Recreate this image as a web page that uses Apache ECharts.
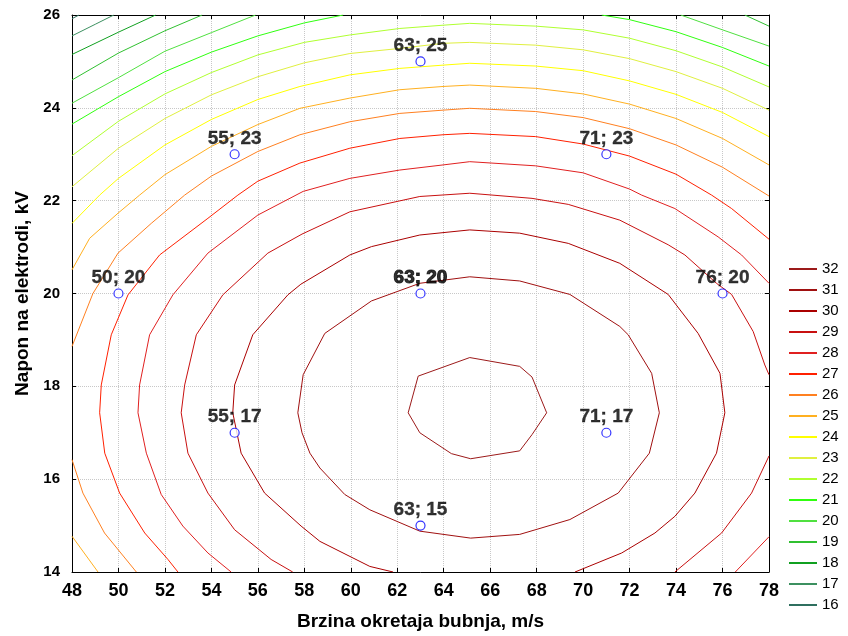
<!DOCTYPE html>
<html>
<head>
<meta charset="utf-8">
<script src="https://cdn.jsdelivr.net/npm/echarts@6/dist/echarts.min.js"></script>
<style>
html,body{margin:0;padding:0;background:#fff;}
#chart{width:848px;height:636px;}
</style>
</head>
<body>
<div id="chart"></div>
<script>
// ---- data ----
const levels = [32,31,30,29,28,27,26,25,24,23,22,21,20,19,18,17,16];
const levelColors = ['#9c1a1a','#a01010','#aa0000','#c81010','#e02020','#ff2000','#ff8020','#ffb020','#ffff00','#e0f040','#b0ff30','#30ff10','#50e040','#30c030','#10a020','#3c9060','#2f6f5f'];

// contour polylines, each level = list of pieces, each piece = list of [x, y]
const contour32 = [[[62.47,17.43],[62.9,18.22],[65.12,18.62],[67.27,18.43],[67.8,18.2],[68.43,17.43],[67.8,16.96],[67.27,16.61],[65.16,16.44],[64.33,16.55],[62.97,17.0],[62.47,17.43]]];
const contour31 = [[[57.72,17.43],[57.95,18.25],[58.88,19.14],[60.89,19.84],[62.97,20.22],[65.12,20.36],[67.27,20.27],[69.43,19.98],[71.58,19.29],[71.94,19.11],[72.95,18.28],[73.28,17.43],[72.85,16.56],[71.51,15.7],[69.43,15.13],[67.27,14.81],[65.16,14.73],[62.97,14.88],[60.82,15.34],[59.74,15.67],[58.67,16.24],[58.24,16.56],[57.9,17.0],[57.72,17.43]]];
const contour30 = [[[61.82,14.0],[60.82,14.12],[58.67,14.66],[57.86,14.99],[56.29,15.7],[55.28,16.56],[54.92,17.43],[55.0,18.03],[55.78,19.11],[57.29,19.97],[57.85,20.2],[59.96,20.83],[60.89,21.01],[62.97,21.26],[65.12,21.37],[67.27,21.3],[69.36,21.08],[71.58,20.65],[73.66,19.98],[74.95,19.14],[75.89,18.28],[76.1,17.43],[75.74,16.56],[74.81,15.7],[73.95,15.2],[73.09,14.84],[71.66,14.41],[69.65,14.0]]];
const contour29 = [
  [[57.5,14.0],[56.57,14.27],[55.0,14.91],[53.85,15.7],[52.99,16.56],[52.7,17.43],[52.85,18.03],[53.35,19.11],[54.49,19.97],[56.43,20.87],[57.9,21.28],[59.96,21.76],[62.97,22.09],[65.12,22.16],[67.8,22.05],[69.36,21.92],[71.58,21.58],[73.66,21.05],[74.38,20.83],[75.74,20.22],[76.39,19.98],[77.32,19.18],[77.82,18.46],[78.0,18.25]],
  [[78.0,16.5],[77.25,15.7],[75.96,14.84],[73.95,14.0]]
];
const contour28 = [
  [[54.85,14.0],[53.85,14.41],[52.77,14.99],[51.84,15.67],[51.2,16.56],[50.84,17.43],[50.91,18.03],[51.34,19.11],[52.34,19.97],[53.85,20.87],[56.0,21.69],[57.95,22.2],[59.96,22.48],[62.11,22.66],[63.97,22.77],[65.12,22.84],[67.96,22.75],[70.0,22.6],[72.0,22.25],[72.52,22.12],[73.95,21.83],[75.81,21.22],[76.82,20.83],[78.0,20.22]],
  [[78.0,14.76],[76.55,14.0]]
];
const contour27 = [[[52.56,14.0],[52.13,14.27],[51.13,14.84],[50.05,15.7],[49.41,16.56],[49.19,17.43],[49.26,18.03],[49.69,19.11],[50.41,19.97],[51.77,20.83],[53.85,21.62],[55.14,22.12],[56.0,22.42],[57.81,22.81],[59.96,23.13],[62.11,23.34],[63.97,23.42],[65.12,23.45],[67.96,23.38],[70.0,23.22],[72.0,22.96],[74.0,22.57],[75.53,22.12],[76.39,21.83],[78.0,21.17]]];
const contour26 = [
  [[48.0,18.86],[48.9,20.0],[49.98,20.87],[51.41,21.51],[52.85,22.12],[54.0,22.53],[56.0,23.06],[57.81,23.42],[59.96,23.7],[62.11,23.88],[63.97,23.95],[65.12,23.99],[67.96,23.92],[70.0,23.79],[72.0,23.55],[74.0,23.2],[76.0,22.72],[78.0,22.1]],
  [[48.0,16.42],[48.47,15.7],[49.4,14.84],[50.77,14.0]]
];
const contour25 = [
  [[48.0,20.51],[48.76,21.19],[49.98,21.73],[50.91,22.12],[52.0,22.56],[54.0,23.17],[56.0,23.64],[57.81,23.99],[59.96,24.21],[62.11,24.39],[63.97,24.46],[65.12,24.49],[67.96,24.42],[70.0,24.3],[72.0,24.08],[74.0,23.77],[76.0,23.34],[78.0,22.77]],
  [[48.0,14.77],[49.12,14.0]]
];
const contour24 = [[[48.0,21.51],[49.19,22.12],[50.0,22.48],[52.0,23.2],[54.0,23.75],[56.0,24.18],[57.81,24.46],[59.96,24.71],[62.11,24.85],[63.97,24.92],[65.12,24.96],[67.96,24.9],[70.0,24.8],[72.0,24.58],[74.0,24.29],[76.0,23.9],[78.0,23.38]]];
const contour23 = [[[48.0,22.3],[50.0,23.13],[52.0,23.77],[54.0,24.28],[56.0,24.67],[58.0,24.97],[59.96,25.17],[62.11,25.28],[63.97,25.39],[65.12,25.41],[67.96,25.35],[70.0,25.25],[72.0,25.06],[74.0,24.78],[76.0,24.42],[78.0,23.95]]];
const contour22 = [[[48.0,22.97],[50.0,23.71],[52.0,24.3],[54.0,24.76],[56.0,25.14],[58.0,25.41],[59.96,25.57],[62.11,25.71],[63.97,25.78],[65.12,25.82],[67.96,25.76],[70.0,25.68],[72.0,25.5],[74.0,25.23],[76.0,24.88],[78.0,24.45]]];
const contour21 = [
  [[48.0,23.65],[50.0,24.24],[52.0,24.78],[54.0,25.2],[56.0,25.55],[58.0,25.83],[59.67,26.0]],
  [[70.8,26.0],[72.0,25.9],[74.0,25.64],[76.0,25.3],[78.0,24.9]]
];
const contour20 = [
  [[48.0,24.1],[50.0,24.65],[52.0,25.22],[54.0,25.62],[55.9,26.0]],
  [[74.2,26.0],[76.0,25.68],[78.0,25.33]]
];
const contour19 = [
  [[48.0,24.6],[50.0,25.18],[52.0,25.66],[53.6,26.0]],
  [[76.96,26.0],[78.0,25.76]]
];
const contour18 = [[[48.0,25.15],[50.0,25.63],[51.6,26.0]]];
const contour17 = [[[48.0,25.55],[49.0,25.8],[49.8,26.0]]];
const contour16 = [[[48.0,25.92],[48.3,26.0]]];

const contoursByLevel = [contour32,contour31,contour30,contour29,contour28,contour27,contour26,contour25,contour24,contour23,contour22,contour21,contour20,contour19,contour18,contour17,contour16];

// design points
const pointX = [55,63,71,50,63,76,55,71,63];
const pointY = [23,25,23,20,20,20,17,17,15];

const xRange = [48,78], yRange = [14,26], tickStep = 2;
const xTitle = 'Brzina okretaja bubnja, m/s';
const yTitle = 'Napon na elektrodi, kV';

// ---- chart ----
const FONT = '"Liberation Sans", Arial, sans-serif';
const chart = echarts.init(document.getElementById('chart'), null, {renderer:'canvas'});

const series = [];
levels.forEach((lv, i) => {
  contoursByLevel[i].forEach(piece => {
    series.push({
      name: String(lv), type: 'line', data: piece, symbol: 'none', showSymbol: false,
      lineStyle: {color: levelColors[i], width: 1}, itemStyle: {color: levelColors[i]},
      silent: true, animation: false, clip: true, z: 2
    });
  });
});

series.push({
  type: 'scatter', name: 'points', animation: false, z: 5,
  symbol: 'circle', symbolSize: 9,
  itemStyle: {color: '#ffffff', borderColor: '#0000ff', borderWidth: 1.2},
  data: pointX.map((x, i) => {
    const item = {value: [x, pointY[i]]};
    if (x === 63 && pointY[i] === 20) item.label = {textBorderColor: '#000', textBorderWidth: 1};
    return item;
  }),
  label: {
    show: true, position: 'top', distance: 1,
    formatter: p => p.value[0] + '; ' + p.value[1],
    color: '#000', fontWeight: 'bold', fontSize: 19, fontFamily: FONT,
    textBorderColor: '#000', textBorderWidth: 0.3
  }
});

const axisCommon = {
  type: 'value', interval: tickStep,
  axisLine: {show: true, lineStyle: {color: '#000', width: 1}},
  axisTick: {show: true, inside: true, length: 4, lineStyle: {color: '#000'}},
};

chart.setOption({
  backgroundColor: '#ffffff',
  animation: false,
  grid: {left: 72, right: 79, top: 15, bottom: 64, containLabel: false, outerBoundsMode: 'none'},
  legend: {
    data: levels.map(String), orient: 'vertical', left: 784, top: 256,
    icon: 'rect', itemWidth: 28, itemHeight: 2, itemGap: 5,
    textStyle: {fontSize: 15, fontFamily: FONT, color: '#000', lineHeight: 16},
    selectedMode: false
  },
  xAxis: [
    Object.assign({}, axisCommon, {
      min: xRange[0], max: xRange[1], position: 'bottom',
      axisLabel: {color: '#000', fontWeight: 'bold', fontSize: 18, fontFamily: FONT, margin: 10},
      splitLine: {show: true, lineStyle: {color: '#c8c8c8', type: 'dotted', width: 1}},
      name: xTitle, nameLocation: 'middle', nameGap: 40,
      nameTextStyle: {color: '#000', fontWeight: 'bold', fontSize: 19, fontFamily: FONT}
    }),
    Object.assign({}, axisCommon, {
      min: xRange[0], max: xRange[1], position: 'top',
      axisLabel: {show: false}, splitLine: {show: false}
    })
  ],
  yAxis: [
    Object.assign({}, axisCommon, {
      min: yRange[0], max: yRange[1], position: 'left',
      axisLabel: {color: '#000', fontWeight: 'bold', fontSize: 15, fontFamily: FONT, margin: 12},
      splitLine: {show: true, lineStyle: {color: '#c8c8c8', type: 'dotted', width: 1}},
      name: yTitle, nameLocation: 'middle', nameGap: 40,
      nameTextStyle: {color: '#000', fontWeight: 'bold', fontSize: 19, fontFamily: FONT}
    }),
    Object.assign({}, axisCommon, {
      min: yRange[0], max: yRange[1], position: 'right',
      axisLabel: {show: false}, splitLine: {show: false}
    })
  ],
  series: series
});
</script>
</body>
</html>
